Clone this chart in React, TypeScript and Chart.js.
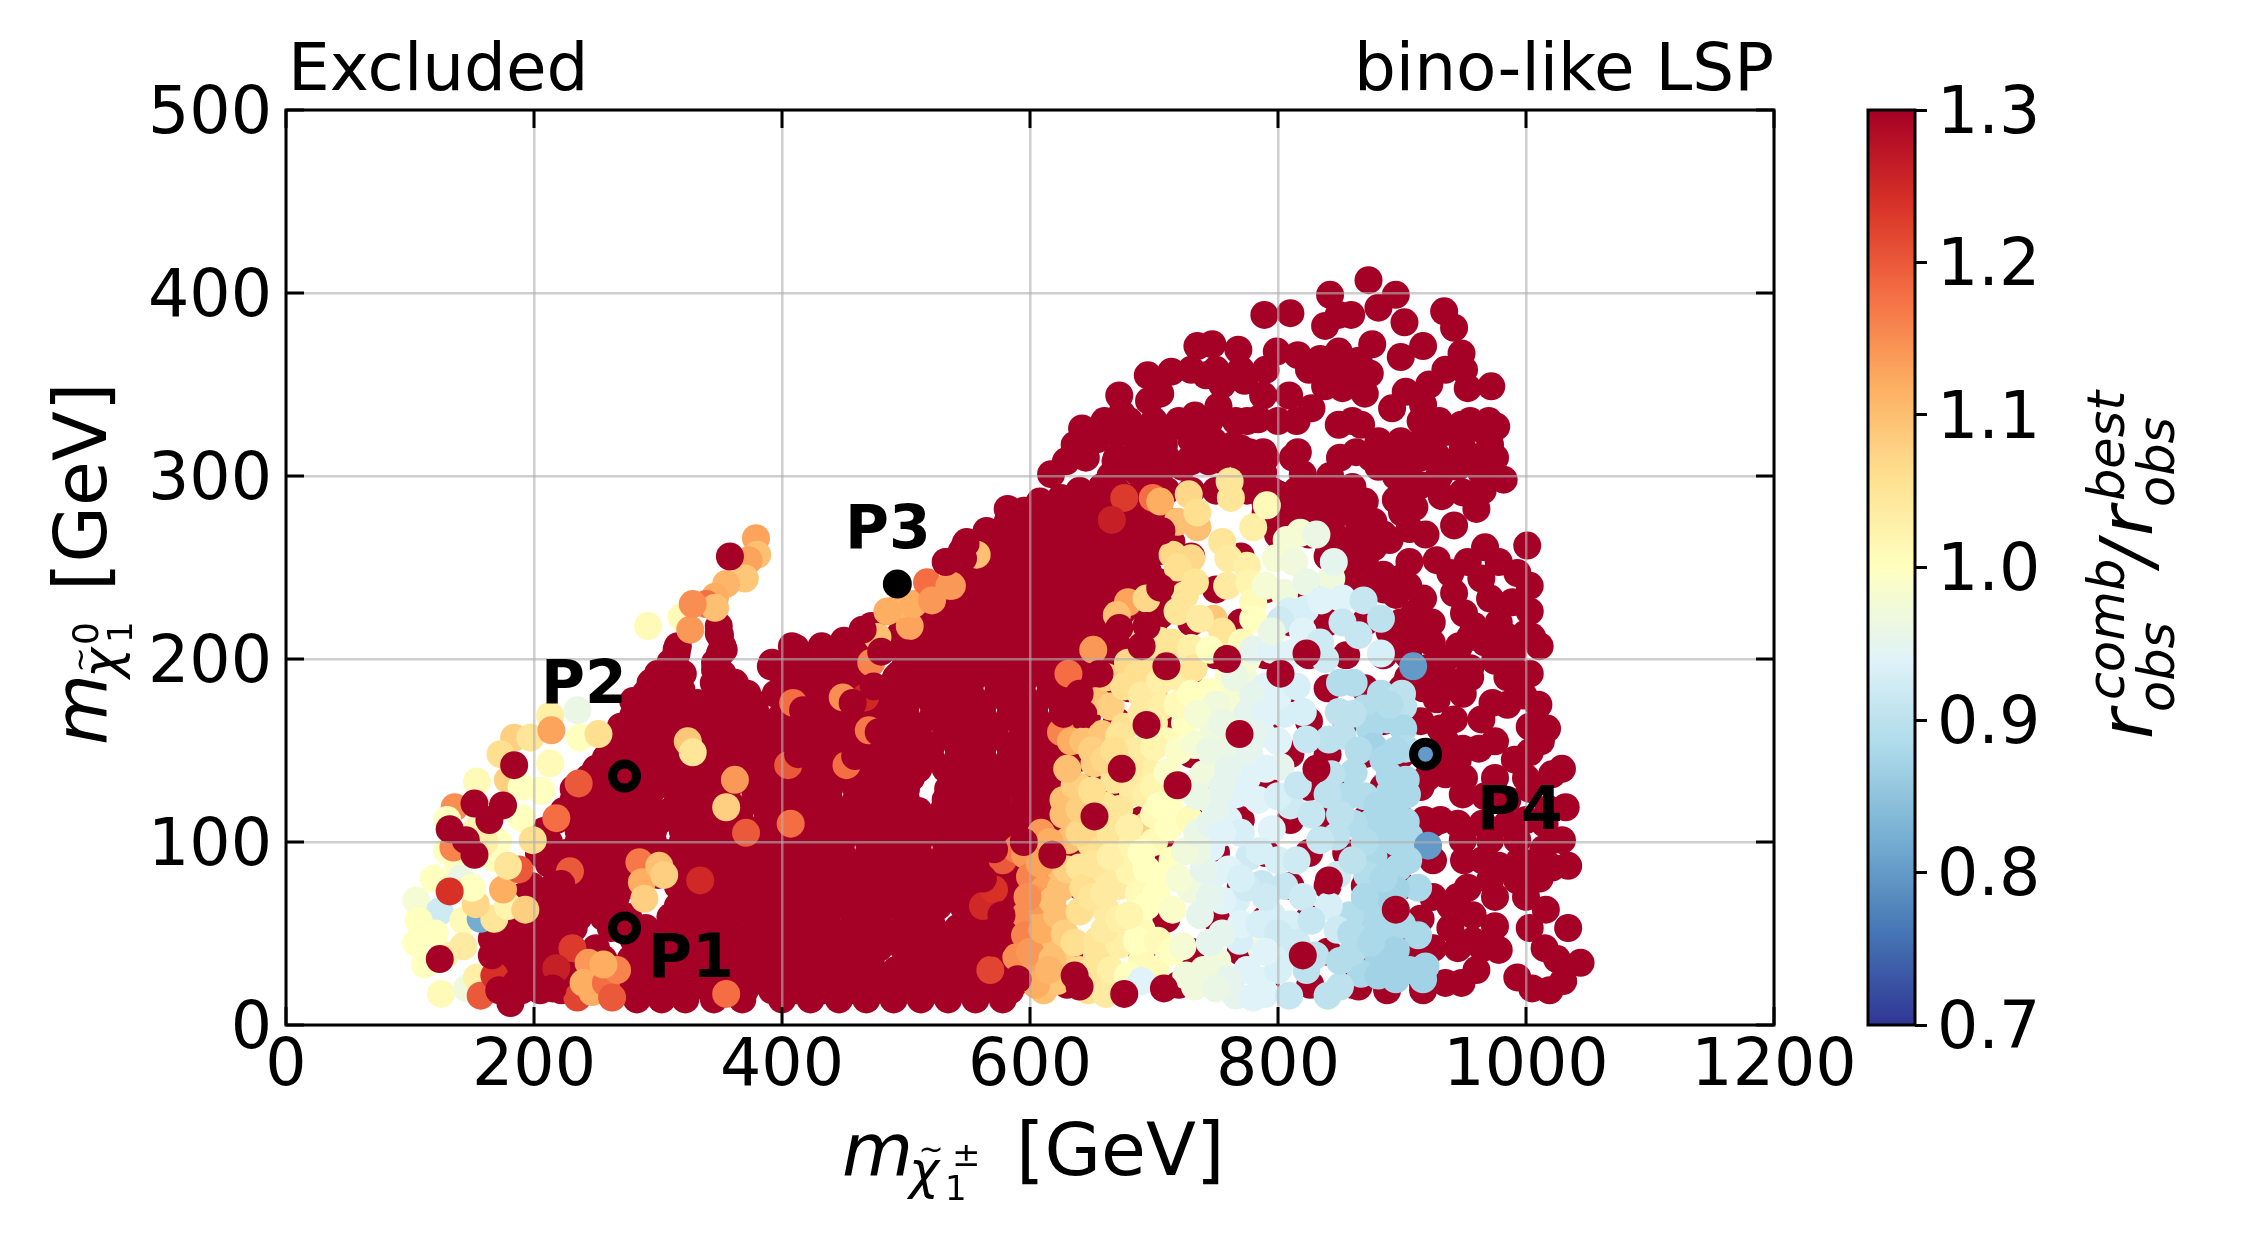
import React, { useEffect, useRef } from "react";
import { Chart, registerables } from "chart.js";

Chart.register(...registerables);

const xTicks = [0, 200, 400, 600, 800, 1000, 1200];
const yTicks = [0, 100, 200, 300, 400, 500];
const barTicks = [0.7, 0.8, 0.9, 1.0, 1.1, 1.2, 1.3];
const paletteStops = ["#313695", "#4575b4", "#74add1", "#abd9e9", "#e0f3f8", "#ffffbf", "#fee090", "#fdae61", "#f46d43", "#d73027", "#a50026"];

// rows: first number is the LSP mass, the rest are chargino masses (all r >= 1.3)
const mainRedRows: number[][] = [
  [14, 181, 283, 303, 322, 345, 368, 400, 423, 446, 468, 490, 512, 534, 556, 578],
  [24, 172, 190, 209, 229, 272, 292, 314, 334, 356, 378, 400, 420, 442, 462, 484, 506, 528, 548, 570, 590],
  [36, 178, 198, 218, 236, 256, 278, 298, 318, 340, 360, 382, 402, 424, 444, 466, 506, 528, 548, 570, 592],
  [47, 166, 186, 206, 226, 280, 300, 322, 342, 364, 384, 406, 426, 448, 468, 490, 510, 532, 552, 574, 594],
  [59, 184, 196, 216, 236, 256, 276, 310, 332, 352, 374, 394, 416, 436, 458, 478, 500, 520, 562, 584],
  [70, 190, 206, 226, 246, 266, 322, 342, 364, 384, 406, 426, 446, 468, 488, 510, 530, 552, 572, 592],
  [82, 220, 240, 260, 280, 300, 322, 332, 352, 374, 394, 416, 436, 458, 478, 500, 520, 542, 562, 584, 604],
  [94, 204, 226, 246, 266, 286, 306, 326, 346, 366, 386, 408, 428, 448, 470, 490, 510, 532, 552, 572, 594, 610],
  [106, 208, 236, 256, 276, 296, 320, 336, 356, 378, 398, 418, 438, 460, 480, 500, 520, 542, 562, 584, 604, 620],
  [117, 224, 246, 266, 286, 310, 326, 346, 366, 388, 408, 428, 448, 470, 490, 510, 530, 552, 572, 594, 612, 626],
  [129, 232, 256, 276, 296, 316, 336, 356, 378, 398, 418, 438, 460, 480, 500, 534, 552, 572, 594, 604, 622],
  [140, 250, 268, 288, 308, 328, 346, 368, 388, 408, 428, 448, 470, 490, 510, 532, 552, 572, 594, 614, 630],
  [152, 262, 278, 298, 318, 338, 358, 378, 398, 418, 440, 460, 480, 500, 520, 542, 562, 584, 604, 624, 640],
  [163, 270, 288, 308, 326, 350, 368, 388, 408, 428, 450, 470, 490, 510, 532, 552, 572, 594, 614, 636],
  [175, 284, 304, 332, 358, 378, 402, 424, 444, 464, 484, 500, 522, 542, 562, 584, 604, 626, 648],
  [187, 294, 312, 345, 362, 404, 424, 446, 490, 512, 532, 552, 574, 594, 616, 636, 658],
  [198, 310, 346, 392, 412, 432, 452, 500, 522, 542, 562, 584, 604, 626, 646, 668],
  [207, 316, 352, 408, 432, 452, 468, 506, 530, 550, 570, 592, 612, 634, 654, 676],
  [218, 349, 472, 510, 534, 556, 576, 596, 616, 636, 658, 680],
  [230, 528, 550, 570, 590, 612, 632, 652, 676, 700],
  [242, 540, 560, 582, 602, 620, 640, 660, 682, 704],
  [253, 533, 548, 566, 586, 606, 626, 646, 668, 690],
  [264, 549, 574, 596, 616, 636, 656, 676, 694, 714],
  [275, 582, 600, 626, 650, 672, 692, 712],
  [286, 608, 628, 646, 664, 684, 700],
  [22, 630, 676, 720, 760, 790, 826, 860, 888, 917],
  [40, 640, 690, 730, 770, 810, 840, 870, 900, 918],
  [58, 625, 670, 710, 750, 790, 825, 855, 885, 915],
  [76, 640, 690, 730, 770, 810, 840, 870, 900],
  [94, 630, 670, 710, 750, 790, 825, 855, 885, 915],
  [112, 650, 690, 730, 770, 810, 840, 870, 900, 918],
  [130, 650, 670, 710, 750, 790, 825, 855, 885, 915],
  [148, 660, 690, 730, 770, 810, 840, 870, 900, 918],
  [166, 670, 710, 750, 790, 825, 855, 885, 915],
  [184, 680, 700, 730, 770, 810, 840, 870, 900, 918],
  [202, 690, 710, 750, 790, 825, 855, 885, 905],
  [220, 700, 730, 770, 810, 840, 870, 900],
  [238, 720, 750, 790, 825, 855, 885],
  [256, 730, 770, 800, 840, 866],
];

const fillRedRows: number[][] = [
  [19, 190, 205, 222, 240, 285, 305, 325, 350, 370, 392, 412, 434, 455, 476, 498, 520, 540, 562, 584],
  [30, 180, 200, 222, 246, 284, 304, 326, 346, 368, 390, 410, 432, 452, 474, 492, 516, 536, 558, 580, 598],
  [42, 176, 190, 210, 228, 250, 288, 310, 330, 350, 372, 392, 414, 434, 456, 478, 498, 518, 540, 560, 582, 600],
  [53, 175, 195, 214, 232, 262, 290, 312, 332, 354, 374, 396, 416, 438, 458, 480, 500, 522, 542, 564, 584],
  [65, 186, 206, 226, 246, 262, 316, 336, 358, 378, 400, 420, 442, 462, 484, 504, 526, 546, 568, 588],
  [76, 198, 216, 236, 256, 274, 316, 336, 358, 378, 400, 420, 442, 462, 484, 504, 526, 546, 566, 586],
  [88, 212, 232, 252, 272, 292, 312, 340, 362, 384, 404, 424, 446, 466, 488, 508, 530, 550, 570, 590],
  [100, 212, 236, 256, 276, 296, 320, 344, 364, 386, 406, 428, 448, 470, 490, 510, 532, 552, 574, 594, 612],
  [112, 218, 240, 262, 282, 302, 324, 346, 366, 388, 410, 430, 450, 472, 492, 512, 532, 554, 574, 596, 616],
  [123, 232, 252, 272, 292, 316, 336, 356, 378, 398, 418, 438, 460, 480, 500, 532, 552, 574, 596, 616],
  [135, 244, 262, 282, 302, 322, 340, 360, 382, 402, 422, 442, 464, 484, 504, 540, 562, 582, 604, 622],
  [146, 258, 276, 296, 316, 336, 356, 378, 398, 418, 438, 460, 480, 500, 520, 542, 562, 584, 604, 626, 640],
  [158, 266, 286, 306, 328, 346, 368, 388, 408, 428, 448, 470, 490, 510, 532, 552, 572, 594, 614, 634],
  [169, 280, 298, 318, 345, 360, 380, 400, 420, 440, 460, 480, 500, 522, 542, 562, 584, 604, 626, 646],
  [181, 290, 312, 350, 372, 395, 414, 434, 454, 474, 494, 512, 532, 552, 574, 594, 616, 636, 656],
  [192, 300, 320, 352, 400, 420, 440, 460, 495, 515, 538, 558, 578, 598, 620, 640, 660],
  [203, 315, 350, 412, 435, 460, 510, 525, 545, 565, 585, 605, 625, 645, 665, 680],
  [213, 350, 465, 495, 518, 540, 560, 580, 600, 620, 640, 660, 680, 695],
  [224, 516, 538, 560, 580, 600, 620, 640, 664, 688, 705],
  [236, 530, 550, 570, 590, 610, 630, 650, 670, 690, 710],
  [248, 540, 570, 590, 610, 630, 650, 675, 695],
  [259, 545, 565, 585, 605, 625, 645, 665, 685, 705],
  [270, 565, 590, 610, 630, 650, 670, 690, 710],
  [281, 595, 615, 635, 660, 680, 700],
];

const upperRedRows: number[][] = [
  [358, 730, 750, 770, 790, 825, 845, 865, 935, 950],
  [330, 660, 680, 700, 720, 745, 775, 800, 815, 860, 915, 930, 955, 970],
  [310, 645, 670, 690, 710, 730, 750, 770, 790, 812, 875, 895, 915, 960, 975],
  [292, 640, 670, 690, 710, 730, 750, 775, 795, 815, 835, 855, 905, 965],
  [280, 790, 810, 830, 850, 900],
  [268, 800, 825, 845, 865, 885],
  [240, 860, 875, 905],
  [212, 900, 915, 955, 985, 1005],
  [190, 905, 925, 955, 985, 995],
  [155, 935, 975, 1012],
  [135, 920, 950, 975, 1000],
  [110, 925, 945, 965, 985, 1015],
  [90, 925, 950, 965, 995, 1010],
  [70, 925, 945, 975, 1000],
  [42, 925, 945, 965, 1015],
];

const upperRed: number[][] = [
  [873, 407], [895, 399], [842, 399], [881, 392], [789, 388], [810, 389], [934, 390], [942, 381], [902, 384], [849, 388], [859, 388], [838, 382],
  [876, 372], [948, 367], [899, 365], [917, 371], [799, 368], [768, 369], [747, 372], [735, 371], [714, 357], [695, 355], [672, 344], [705, 345],
  [696, 341], [742, 355], [755, 350], [773, 352], [816, 366], [834, 364], [849, 368], [865, 363], [874, 356], [838, 349], [852, 348], [870, 345],
  [903, 346], [922, 350], [953, 348], [972, 349], [892, 337], [917, 339], [674, 334], [642, 326], [636, 317], [617, 301], [629, 308], [654, 320],
  [670, 323], [690, 323], [712, 326], [733, 333], [752, 338], [766, 330], [784, 331], [788, 344], [809, 344], [827, 337], [849, 328], [867, 328],
  [881, 319], [863, 313], [899, 319], [917, 320], [935, 324], [948, 328], [962, 326], [976, 327], [971, 317], [949, 315], [928, 311], [906, 306],
  [881, 305], [982, 298], [964, 302], [932, 289], [949, 291], [960, 282], [942, 273], [895, 287], [910, 283], [906, 271], [919, 268],
  [788, 313], [777, 313], [764, 317], [748, 319], [730, 320], [708, 317], [687, 315], [669, 308], [665, 300], [687, 302], [708, 305], [730, 308],
  [752, 309], [770, 315], [788, 302], [816, 313], [820, 301], [842, 300], [860, 294], [870, 286], [877, 275], [877, 261], [859, 280], [841, 286],
  [823, 286], [816, 275], [841, 272], [859, 264], [870, 253], [856, 247], [841, 258], [906, 253], [899, 244], [885, 246], [917, 233], [924, 220],
  [910, 225], [899, 220], [924, 209], [928, 254], [939, 247], [942, 236], [967, 261], [978, 253], [1001, 262], [993, 247], [1003, 240], [964, 244],
  [953, 253], [971, 233], [989, 231], [1003, 226], [958, 218], [978, 220], [1000, 214], [1011, 207], [946, 207], [967, 209], [989, 203], [1003, 192],
  [975, 199], [955, 195], [942, 187], [928, 178], [917, 184], [949, 181], [973, 176], [964, 167], [942, 167], [931, 162], [949, 151], [962, 151],
  [928, 148], [935, 137], [1003, 163], [1017, 162], [1003, 149], [991, 145], [1029, 140], [1021, 137], [949, 126], [967, 125], [985, 123], [1003, 129],
  [1032, 119], [1018, 118], [1000, 112], [931, 112], [949, 101], [971, 101], [993, 101], [1029, 101], [1014, 96], [1034, 87], [1021, 86], [978, 87],
  [953, 75], [971, 79], [993, 79], [1011, 80], [1016, 63], [939, 65], [957, 60], [939, 53], [975, 54], [1003, 53], [1034, 53], [978, 41], [957, 46],
  [1025, 36], [1044, 34], [993, 26], [1005, 20], [1019, 19], [1030, 24], [960, 30], [948, 23], [935, 23], [917, 19], [888, 19], [865, 21],
  [582, 282], [561, 253], [606, 284], [586, 269], [571, 261], [600, 269], [625, 288], [643, 283], [661, 288], [658, 294],
  [679, 305], [701, 302], [723, 305], [744, 308], [629, 275], [651, 275], [669, 269], [690, 275], [694, 258], [672, 255], [651, 258], [629, 258],
  [780, 300], [800, 290], [790, 285], [805, 275], [850, 310], [895, 300], [915, 295], [930, 300], [945, 305], [890, 265], [895, 235],
  [890, 215], [880, 240], [865, 270], [850, 258], [905, 205], [920, 195], [935, 200], [950, 225], [945, 145], [985, 175], [998, 180], [1010, 175],
];

const lowerLeftRed: number[][] = [
  [349, 214], [353, 205], [315, 205], [346, 194], [310, 196], [391, 196], [411, 206], [433, 204], [319, 183], [294, 183], [280, 177], [305, 171],
  [332, 176], [355, 178], [377, 176], [346, 162], [366, 164], [402, 193], [420, 196], [445, 187], [402, 180], [424, 183], [452, 185],
  [492, 190], [456, 174], [407, 166], [427, 170], [463, 168], [461, 155], [492, 168], [404, 155], [430, 155], [441, 144],
  [405, 140], [427, 138], [411, 127], [362, 157], [370, 149], [358, 144], [337, 136], [355, 127], [355, 111], [301, 166], [303, 155],
];

// [mass x, mass y, ratio], painted in this order
const leftFan: number[][] = [
  [235, 172, 0.96], [213, 169, 1.03], [237, 157, 1.0], [252, 159, 1.06], [184, 157, 1.08], [197, 157, 1.05], [173, 148, 1.06], [213, 143, 1.01],
  [179, 134, 1.08], [154, 133, 1.01], [206, 128, 1.0], [136, 119, 1.15], [130, 112, 1.0], [157, 117, 1.0], [190, 113, 1.0], [199, 101, 1.06],
  [153, 106, 1.02], [171, 100, 1.0], [168, 91, 1.0], [139, 87, 1.0], [141, 80, 0.96], [119, 80, 1.0], [105, 68, 0.98], [124, 62, 0.92], [143, 57, 1.01],
  [157, 58, 0.82], [168, 58, 1.05], [153, 66, 1.07], [179, 65, 1.02], [193, 63, 1.08], [175, 74, 1.12], [188, 85, 1.2], [179, 87, 1.05], [107, 57, 1.0],
  [105, 45, 1.0], [112, 33, 1.0], [128, 38, 1.03], [143, 43, 1.04], [125, 17, 1.01], [146, 20, 0.97], [154, 26, 1.03], [157, 16, 1.2], [168, 27, 1.24],
  [120, 50, 1.0], [130, 95, 1.0], [150, 75, 1.0], [190, 130, 1.0], [160, 100, 1.03], [214, 161, 1.13], [135, 97, 1.16], [132, 73, 1.24],
  [231, 42, 1.23], [218, 31, 1.26], [235, 15, 1.22], [244, 34, 1.14], [240, 23, 1.12], [247, 18, 1.12], [258, 23, 1.18], [263, 15, 1.2], [267, 30, 1.16],
  [256, 33, 1.12], [285, 89, 1.17], [287, 78, 1.12], [301, 87, 1.1], [289, 69, 1.08], [305, 82, 1.08], [334, 79, 1.25], [362, 134, 1.14], [355, 119, 1.08],
  [371, 105, 1.2], [407, 110, 1.18], [405, 142, 1.2], [324, 155, 1.09], [328, 149, 1.05], [229, 84, 1.2], [236, 132, 1.2], [218, 113, 1.18], [355, 17, 1.18],
  [467, 179, 1.25], [472, 198, 1.16], [477, 212, 1.1], [503, 218, 1.13], [470, 161, 1.17], [452, 142, 1.18], [409, 176, 1.18], [449, 179, 1.15],
];

const upperTail: number[][] = [
  [379, 266, 1.13], [380, 257, 1.1], [373, 254, 1.13], [370, 244, 1.09], [355, 241, 1.11], [346, 234, 1.12], [339, 230, 1.18], [346, 228, 1.1],
  [319, 223, 1.01], [292, 218, 1.01], [326, 216, 1.14], [328, 230, 1.15], [496, 230, 1.11], [485, 226, 1.12], [506, 230, 1.12], [517, 242, 1.18],
  [535, 240, 1.14], [521, 232, 1.14], [557, 257, 1.1], [537, 240, 1.14],
];

const orangeBand: number[][] = [
  [676, 288, 1.23], [699, 288, 1.18], [666, 276, 1.26], [705, 286, 1.12], [719, 275, 1.1], [631, 192, 1.18], [651, 205, 1.14], [625, 160, 1.16],
  [562, 65, 1.25], [571, 74, 1.24], [578, 90, 1.2], [589, 96, 1.17], [596, 93, 1.14], [609, 105, 1.14], [600, 81, 1.16], [596, 60, 1.15], [596, 49, 1.16],
  [589, 37, 1.15], [568, 30, 1.22], [604, 30, 1.13], [611, 19, 1.1], [611, 60, 1.12], [611, 74, 1.13], [614, 46, 1.1], [622, 24, 1.09], [622, 87, 1.1],
  [627, 115, 1.1], [627, 123, 1.1], [633, 155, 1.12], [636, 131, 1.08], [631, 101, 1.1], [625, 75, 1.1], [625, 35, 1.08], [679, 231, 1.13], [670, 224, 1.1],
  [735, 272, 1.1], [748, 222, 1.09], [654, 177, 1.1], [643, 155, 1.1], [658, 159, 1.09], [652, 143, 1.08], [665, 174, 1.08],
  [605, 22, 1.12], [600, 40, 1.14], [610, 52, 1.12], [605, 68, 1.14], [618, 68, 1.1], [598, 70, 1.15], [608, 88, 1.13], [616, 100, 1.12], [622, 60, 1.1],
  [618, 36, 1.1], [628, 50, 1.08], [615, 30, 1.11], [630, 85, 1.08], [640, 130, 1.08], [630, 140, 1.1], [662, 190, 1.08],
];

const yellowBand: number[][] = [
  [761, 297, 1.05], [762, 288, 1.05], [728, 290, 1.07], [735, 280, 1.06], [715, 257, 1.07], [730, 255, 1.07], [719, 250, 1.06], [733, 242, 1.05], [755, 264, 1.05],
  [694, 233, 1.07], [679, 198, 1.07], [697, 198, 1.06], [687, 192, 1.06], [676, 185, 1.06], [676, 163, 1.06], [672, 158, 1.05], [668, 134, 1.05], [683, 127, 1.04],
  [694, 126, 1.03], [694, 140, 1.03], [658, 119, 1.05], [672, 118, 1.05], [694, 109, 1.08], [649, 99, 1.06], [672, 96, 1.02], [640, 86, 1.05], [661, 83, 1.04],
  [643, 75, 1.06], [672, 76, 1.04], [661, 63, 1.04], [636, 45, 1.06], [654, 46, 1.05], [654, 38, 1.05], [647, 19, 1.06], [661, 17, 1.04], [640, 62, 1.06],
  [650, 110, 1.07], [665, 105, 1.05], [685, 150, 1.04], [690, 170, 1.04], [705, 210, 1.05],
  [640, 30, 1.07], [650, 30, 1.05], [665, 30, 1.03], [672, 44, 1.03], [690, 35, 1.01], [660, 52, 1.04], [672, 58, 1.03], [690, 52, 1.01], [650, 70, 1.05], [660, 72, 1.04],
  [680, 84, 1.02], [688, 72, 1.01], [702, 72, 1.0], [650, 88, 1.05], [665, 92, 1.03], [682, 98, 1.02], [700, 100, 1.01], [640, 105, 1.07], [660, 120, 1.05], [680, 108, 1.03],
  [700, 115, 1.01], [640, 118, 1.08], [650, 128, 1.06], [680, 140, 1.04], [700, 130, 1.02], [712, 120, 1.0], [650, 150, 1.08], [660, 145, 1.07], [668, 150, 1.06],
  [700, 165, 1.03], [710, 155, 1.01], [725, 165, 1.0], [690, 180, 1.04], [705, 188, 1.03], [720, 190, 1.03], [715, 205, 1.04], [690, 215, 1.06], [725, 235, 1.05],
  [714, 209, 1.05], [730, 206, 1.03], [732, 195, 1.05], [755, 215, 1.05], [719, 226, 1.05], [737, 222, 1.04], [760, 255, 1.04], [759, 240, 1.04],
  [775, 251, 1.03], [780, 272, 1.03], [706, 174, 1.03], [719, 175, 1.01], [730, 181, 1.0], [744, 182, 1.0], [791, 284, 1.01], [777, 242, 1.02], [780, 231, 1.01],
  [780, 222, 1.0], [771, 209, 1.01], [700, 152, 1.02], [711, 138, 0.99], [712, 108, 1.0], [729, 112, 1.01], [690, 94, 1.0], [715, 90, 1.0], [694, 85, 1.0],
  [709, 82, 1.0], [694, 65, 1.0], [715, 63, 0.99], [686, 46, 1.0], [703, 46, 1.01], [679, 27, 1.0], [701, 30, 1.01], [715, 40, 1.0], [680, 60, 1.02],
  [705, 120, 1.0], [720, 150, 0.99], [723, 130, 0.98], [733, 153, 0.98], [723, 43, 0.98], [726, 27, 0.97], [733, 21, 0.97], [730, 74, 0.97], [720, 80, 0.98],
  [751, 35, 0.97], [748, 162, 0.97], [751, 145, 0.97], [740, 137, 0.97], [762, 177, 0.98], [773, 189, 0.97], [807, 265, 0.98], [818, 269, 0.98], [798, 255, 0.98],
  [813, 253, 0.97], [843, 244, 0.97], [805, 236, 0.97], [787, 41, 0.97], [775, 200, 0.98], [790, 240, 0.98], [760, 190, 0.99], [745, 205, 1.0],
];

const paleBand: number[][] = [
  [831, 268, 0.96], [845, 253, 0.95], [823, 242, 0.96], [852, 233, 0.94], [822, 227, 0.93], [809, 226, 0.93], [802, 221, 0.92], [811, 203, 0.94], [762, 152, 0.96],
  [787, 159, 0.95], [777, 148, 0.95], [802, 141, 0.95], [760, 112, 0.94], [795, 107, 0.94], [766, 126, 0.94], [784, 123, 0.94], [746, 97, 0.94], [777, 92, 0.92],
  [748, 82, 0.94], [766, 68, 0.93], [787, 77, 0.91], [805, 76, 0.91], [737, 60, 0.95], [755, 68, 0.94], [769, 46, 0.93], [766, 16, 0.95], [787, 24, 0.94], [800, 30, 0.93],
  [690, 24, 0.94], [790, 17, 0.94], [775, 30, 0.94], [760, 25, 0.95], [770, 55, 0.94], [785, 55, 0.93], [795, 60, 0.93], [810, 55, 0.93], [745, 45, 0.95], [745, 70, 0.95],
  [760, 85, 0.94], [740, 85, 0.95], [770, 105, 0.93], [785, 95, 0.93], [800, 90, 0.93], [815, 90, 0.92], [750, 118, 0.95], [775, 135, 0.94], [790, 140, 0.94],
  [800, 155, 0.94], [775, 170, 0.95], [790, 185, 0.94], [780, 205, 0.95], [795, 205, 0.94], [805, 170, 0.93], [810, 120, 0.92], [765, 160, 0.96], [750, 175, 0.97],
  [805, 38, 0.93], [809, 16, 0.91], [820, 70, 0.92], [815, 45, 0.92], [800, 125, 0.93],
  [740, 30, 0.97], [750, 20, 0.96], [755, 50, 0.95], [735, 95, 0.96], [725, 95, 0.97], [735, 105, 0.96], [745, 110, 0.95], [755, 105, 0.94], [755, 130, 0.95], [735, 125, 0.96],
  [745, 150, 0.96], [760, 140, 0.95], [735, 170, 0.98], [755, 165, 0.96], [765, 190, 0.96], [780, 180, 0.95], [790, 170, 0.94], [800, 180, 0.94], [815, 185, 0.93], [780, 160, 0.95],
  [775, 75, 0.92], [800, 50, 0.92], [790, 70, 0.92], [770, 80, 0.93], [790, 40, 0.94], [780, 15, 0.94], [795, 215, 0.96], [820, 215, 0.94], [835, 232, 0.94],
];

const blueBand: number[][] = [
  [869, 232, 0.91], [883, 222, 0.9], [852, 220, 0.91], [865, 213, 0.91], [883, 203, 0.93], [838, 200, 0.92], [834, 209, 0.92], [850, 187, 0.89], [861, 187, 0.89],
  [883, 181, 0.89], [900, 181, 0.9], [901, 174, 0.9], [849, 171, 0.9], [870, 173, 0.89], [888, 167, 0.88], [901, 162, 0.88], [874, 162, 0.88], [852, 158, 0.9],
  [841, 156, 0.9], [823, 156, 0.91], [820, 171, 0.93], [877, 152, 0.87], [903, 151, 0.89], [903, 134, 0.88], [890, 136, 0.88], [890, 127, 0.88], [904, 126, 0.88],
  [861, 138, 0.89], [843, 137, 0.9], [856, 125, 0.89], [840, 126, 0.9], [816, 131, 0.91], [827, 115, 0.91], [903, 111, 0.88], [876, 111, 0.88], [861, 110, 0.89],
  [886, 105, 0.88], [906, 103, 0.88], [847, 103, 0.9], [834, 101, 0.91], [877, 92, 0.88], [897, 86, 0.88], [872, 82, 0.89], [848, 82, 0.92], [913, 75, 0.88],
  [895, 74, 0.87], [890, 70, 0.87], [877, 68, 0.87], [872, 61, 0.88], [858, 60, 0.89], [841, 65, 0.93], [827, 57, 0.91], [848, 52, 0.92], [859, 50, 0.89],
  [913, 49, 0.88], [887, 47, 0.88], [895, 41, 0.87], [881, 35, 0.87], [919, 32, 0.87], [906, 30, 0.87], [893, 29, 0.87], [867, 28, 0.88], [881, 27, 0.87],
  [917, 25, 0.87], [830, 38, 0.9], [823, 30, 0.9], [850, 21, 0.9], [840, 16, 0.9], [909, 196, 0.8], [921, 98, 0.8],
  [860, 170, 0.9], [890, 175, 0.89], [865, 150, 0.89], [885, 145, 0.88], [895, 150, 0.88], [870, 125, 0.89], [850, 115, 0.9], [880, 120, 0.88], [895, 115, 0.88],
  [870, 100, 0.89], [895, 100, 0.88], [860, 90, 0.9], [885, 80, 0.88], [905, 90, 0.88], [870, 70, 0.88], [880, 55, 0.88], [900, 55, 0.88], [860, 40, 0.89], [875, 45, 0.88],
  [850, 35, 0.89], [895, 25, 0.87],
];

const topRed: number[][] = [
  [674, 140], [652, 114], [618, 93], [802, 192], [759, 200], [705, 239], [672, 217], [694, 218], [690, 207], [656, 192], [640, 181], [643, 170], [627, 170],
  [710, 196], [706, 270], [571, 96], [676, 17], [640, 21], [184, 142], [152, 121], [175, 120], [164, 112], [132, 107], [152, 93], [145, 101], [124, 36],
  [166, 38], [172, 19], [181, 12], [184, 43], [186, 23], [215, 20], [831, 140], [823, 203], [895, 63], [841, 79],
  [358, 256], [532, 253], [548, 263], [546, 255], [465, 216], [450, 210], [501, 203], [457, 176], [417, 172], [459, 147], [478, 160], [474, 185], [480, 204], [413, 148],
  [222, 77], [562, 80], [570, 45], [577, 60], [590, 25], [595, 100],
  [769, 159], [719, 131], [694, 164], [708, 20], [820, 38], [636, 27],
];

const markerX = [273, 273, 493, 919];
const markerY = [53, 136, 241, 148];
const markerRatio = [1.3, 1.3, 1.3, 0.8];
const markerNames = ["P1", "P2", "P3", "P4"];

const hexToRgb = (h: string) => [parseInt(h.slice(1, 3), 16), parseInt(h.slice(3, 5), 16), parseInt(h.slice(5, 7), 16)];
function ratioColor(v: number) {
  const t = Math.max(0, Math.min(1, (v - 0.7) / 0.6)) * (paletteStops.length - 1);
  const i = Math.min(paletteStops.length - 2, Math.floor(t));
  const a = hexToRgb(paletteStops[i]);
  const b = hexToRgb(paletteStops[i + 1]);
  const f = t - i;
  return `rgb(${a.map((c, k) => Math.round(c + (b[k] - c) * f)).join(",")})`;
}

const FONT = '"DejaVu Sans"';
const rowPoints = (rows: number[][]) => rows.flatMap((r) => r.slice(1).map((x) => ({ x, y: r[0] })));
const redPoints = [
  ...rowPoints(mainRedRows),
  ...rowPoints(fillRedRows),
  ...rowPoints(upperRedRows),
  ...upperRed.map((p) => ({ x: p[0], y: p[1] })),
  ...lowerLeftRed.map((p) => ({ x: p[0], y: p[1] })),
];
const colouredPoints = [...leftFan, ...upperTail, ...orangeBand, ...yellowBand, ...paleBand, ...blueBand].map((p) => ({ x: p[0], y: p[1], v: p[2] }));
const topRedPoints = topRed.map((p) => ({ x: p[0], y: p[1] }));
const markerPoints = markerX.map((x, i) => ({ x, y: markerY[i], v: markerRatio[i] }));

function put(ctx: any, text: string, x: number, y: number, font: string, align: CanvasTextAlign = "left") {
  ctx.font = font;
  ctx.textAlign = align;
  ctx.textBaseline = "alphabetic";
  ctx.fillStyle = "#000";
  ctx.fillText(text, x, y);
}

const framePlugin = {
  id: "frame",
  afterDraw(chart: any) {
    const { ctx, chartArea: a, scales } = chart;
    ctx.save();
    ctx.strokeStyle = "#000";
    ctx.lineWidth = 3;
    ctx.strokeRect(a.left, a.top, a.right - a.left, a.bottom - a.top);
    ctx.beginPath();
    xTicks.forEach((t) => {
      const p = scales.x.getPixelForValue(t);
      ctx.moveTo(p, a.bottom);
      ctx.lineTo(p, a.bottom - 18);
      ctx.moveTo(p, a.top);
      ctx.lineTo(p, a.top + 18);
    });
    yTicks.forEach((t) => {
      const p = scales.y.getPixelForValue(t);
      ctx.moveTo(a.left, p);
      ctx.lineTo(a.left + 18, p);
      ctx.moveTo(a.right, p);
      ctx.lineTo(a.right - 18, p);
    });
    ctx.stroke();

    put(ctx, "Excluded", 288, 90, `66px ${FONT}`);
    put(ctx, "bino-like LSP", 1774, 90, `66px ${FONT}`, "right");

    const bold = `bold 60px ${FONT}`;
    put(ctx, markerNames[0], 648, 977, bold);
    put(ctx, markerNames[1], 541, 703, bold);
    put(ctx, markerNames[2], 845, 548, bold);
    put(ctx, markerNames[3], 1477, 829, bold);

    // x axis title
    const it = `italic 73px ${FONT}`;
    const itS = `italic 51px ${FONT}`;
    put(ctx, "m", 842, 1175, it);
    put(ctx, "χ", 909, 1188, itS);
    put(ctx, "~", 931, 1159, `30px ${FONT}`, "center");
    put(ctx, "1", 945, 1200, `34px ${FONT}`);
    put(ctx, "±", 952, 1166, `34px ${FONT}`);
    put(ctx, "[GeV]", 1016, 1175, `73px ${FONT}`);

    // y axis title
    ctx.save();
    ctx.translate(106, 0);
    ctx.rotate(-Math.PI / 2);
    put(ctx, "m", -745, 0, it);
    put(ctx, "χ", -678, 13, itS);
    put(ctx, "~", -660, -16, `30px ${FONT}`, "center");
    put(ctx, "1", -643, 26, `34px ${FONT}`);
    put(ctx, "0", -645, -8, `36px ${FONT}`);
    put(ctx, "[GeV]", -591, 0, `73px ${FONT}`);
    ctx.restore();

    ctx.restore();
  },
};

const barFramePlugin = {
  id: "barFrame",
  afterDraw(chart: any) {
    const { ctx, chartArea: a } = chart;
    ctx.save();
    ctx.strokeStyle = "#000";
    ctx.lineWidth = 3;
    ctx.strokeRect(a.left, a.top, a.right - a.left, a.bottom - a.top);
    // colour bar title
    ctx.translate(2152 - 1800, 0);
    ctx.rotate(-Math.PI / 2);
    const it = `italic 73px ${FONT}`;
    const itS = `italic 51px ${FONT}`;
    put(ctx, "r", -739, 0, it);
    put(ctx, "comb", -700, -28, itS);
    put(ctx, "obs", -712, 22, itS);
    put(ctx, "/", -566, 0, it);
    put(ctx, "r", -536, 0, it);
    put(ctx, "best", -501, -28, itS);
    put(ctx, "obs", -507, 22, itS);
    ctx.restore();
  },
};

export default function App() {
  const mainRef = useRef<HTMLCanvasElement>(null);
  const barRef = useRef<HTMLCanvasElement>(null);

  useEffect(() => {
    const tickFont = { family: FONT, size: 65, lineHeight: 1 };
    const grid = { z: 1, drawTicks: false, color: "rgba(176,176,176,0.62)", lineWidth: 2.5 };
    const mark = (ctx: any) => ratioColor(ctx.raw?.v ?? 1.3);
    const main = new Chart(mainRef.current!, {
      type: "scatter",
      data: {
        datasets: [
          { data: markerPoints, pointRadius: (c: any) => (c.dataIndex === 2 ? 14.5 : 12), pointBorderWidth: (c: any) => (c.dataIndex === 2 ? 0 : 9), pointBackgroundColor: (c: any) => (c.dataIndex === 2 ? "#000" : mark(c)), pointBorderColor: "#000" },
          { data: topRedPoints, pointRadius: 14, pointBorderWidth: 0, pointBackgroundColor: "#a50026" },
          { data: colouredPoints, pointRadius: 14, pointBorderWidth: 0, pointBackgroundColor: mark },
          { data: redPoints, pointRadius: 14, pointBorderWidth: 0, pointBackgroundColor: "#a50026" },
        ],
      } as any,
      options: {
        animation: false,
        responsive: false,
        layout: { padding: { left: 0, top: 110, right: 476, bottom: 0 } },
        plugins: { legend: { display: false }, tooltip: { enabled: false } },
        events: [],
        scales: {
          x: {
            type: "linear", min: 0, max: 1200,
            afterBuildTicks: (s: any) => { s.ticks = xTicks.map((value) => ({ value })); },
            afterFit: (s: any) => { s.height = 225; },
            grid, border: { display: false },
            ticks: { font: tickFont, color: "#000", padding: 11, maxRotation: 0, autoSkip: false, callback: (v: any) => String(v) },
          },
          y: {
            type: "linear", min: 0, max: 500,
            afterBuildTicks: (s: any) => { s.ticks = yTicks.map((value) => ({ value })); },
            afterFit: (s: any) => { s.width = 286; },
            grid, border: { display: false },
            ticks: { font: tickFont, color: "#000", padding: 14, autoSkip: false, labelOffset: 6, callback: (v: any) => String(v) },
          },
        },
      } as any,
      plugins: [framePlugin],
    });

    const bar = new Chart(barRef.current!, {
      type: "bar",
      data: {
        labels: [""],
        datasets: [{
          data: [[barTicks[0], barTicks[barTicks.length - 1]]],
          barPercentage: 1, categoryPercentage: 1, borderWidth: 0,
          backgroundColor: (c: any) => {
            const a = c.chart.chartArea;
            if (!a) return "#000";
            const g = c.chart.ctx.createLinearGradient(0, a.bottom, 0, a.top);
            paletteStops.forEach((s, i) => g.addColorStop(i / (paletteStops.length - 1), s));
            return g;
          },
        }],
      } as any,
      options: {
        animation: false,
        responsive: false,
        layout: { padding: { left: 68, top: 110, right: 0, bottom: 225 } },
        plugins: { legend: { display: false }, tooltip: { enabled: false } },
        events: [],
        scales: {
          x: { display: false },
          y: {
            position: "right", min: 0.7, max: 1.3,
            afterBuildTicks: (s: any) => { s.ticks = barTicks.map((value) => ({ value })); },
            afterFit: (s: any) => { s.width = 335; },
            grid: { drawOnChartArea: false, drawTicks: true, tickLength: 12, tickWidth: 3, tickColor: "#000" },
            border: { display: false },
            ticks: { font: tickFont, color: "#000", padding: 10, autoSkip: false, labelOffset: 6, callback: (v: any) => Number(v).toFixed(1) },
          },
        },
      } as any,
      plugins: [barFramePlugin],
    });
    return () => { main.destroy(); bar.destroy(); };
  }, []);

  return (
    <div style={{ position: "absolute", left: 0, top: 0, width: 2250, height: 1250, background: "#fff" }}>
      <canvas ref={mainRef} width={2250} height={1250} style={{ position: "absolute", left: 0, top: 0, display: "block" }} />
      <canvas ref={barRef} width={450} height={1250} style={{ position: "absolute", left: 1800, top: 0, display: "block" }} />
    </div>
  );
}
